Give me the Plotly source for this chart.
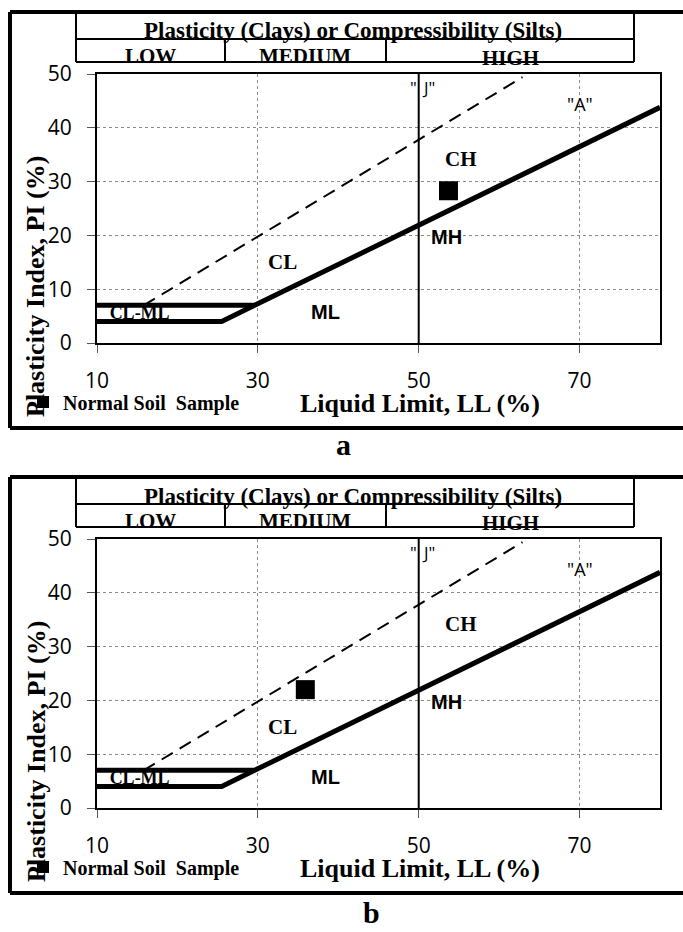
import plotly.graph_objects as go

W, H = 683, 932

# ---------------- data ----------------
x_ticks = [10, 30, 50, 70]
y_ticks = [0, 10, 20, 30, 40, 50]

a_line_ll = [10, 25.5, 29.6, 80]       # thick boundary (PI=4 -> A-line)
a_line_pi = [4, 4, 7, 43.8]
pi7_ll = [10, 29.6]
pi7_pi = [7, 7]
u_line_ll = [15.8, 62.9]                 # dashed U-line
u_line_pi = [7.0, 49.4]
j_line_ll = [50, 50]
j_line_pi = [0, 50]

samples_ll = {"a": [53.7], "b": [35.9]}
samples_pi = {"a": [28.3], "b": [22.0]}

zone_labels = ["CH", "MH", "CL", "ML"]
zone_ll = [55.3, 53.5, 33.1, 38.4]
zone_pi = [34.2, 19.7, 15.0, 5.8]
zone_font = ["serif", "sans", "serif", "sans"]

header_title = "Plasticity (Clays) or Compressibility (Silts)"
header_cells = ["LOW", "MEDIUM", "HIGH"]
panel_names = ["a", "b"]
panel_offsets = [0, 465]

SERIF = "Liberation Serif"
SANS = "Liberation Sans"
TICKF = "Open Sans"


def px(x):
    return x / W


def py(y):
    return 1 - y / H


fig = go.Figure()
shapes = []
annotations = []


def pann(x, y, text, font, **kw):
    d = dict(x=px(x), y=py(y), xref="paper", yref="paper", text=text, showarrow=False,
             xanchor="center", yanchor="middle", font=font)
    d.update(kw)
    annotations.append(d)


for i, (name, off) in enumerate(zip(panel_names, panel_offsets)):
    sx = "" if i == 0 else "2"
    xa, ya = "x" + sx, "y" + sx

    # CL-ML label (drawn first so the thick lines overlap it)
    fig.add_trace(go.Scatter(x=[15.3], y=[5.3], mode="text", text=["CL-ML"],
                             textfont=dict(family=SERIF, size=18, color="black", weight="bold"),
                             xaxis=xa, yaxis=ya, showlegend=False, hoverinfo="skip"))
    # J line
    fig.add_trace(go.Scatter(x=j_line_ll, y=j_line_pi, mode="lines",
                             line=dict(color="black", width=2),
                             xaxis=xa, yaxis=ya, showlegend=False, hoverinfo="skip"))
    # U line
    fig.add_trace(go.Scatter(x=u_line_ll, y=u_line_pi, mode="lines",
                             line=dict(color="black", width=2, dash="13px,8px"),
                             xaxis=xa, yaxis=ya, showlegend=False, hoverinfo="skip"))
    # PI = 7 line
    fig.add_trace(go.Scatter(x=pi7_ll, y=pi7_pi, mode="lines",
                             line=dict(color="black", width=5),
                             xaxis=xa, yaxis=ya, showlegend=False, hoverinfo="skip"))
    # A-line boundary
    fig.add_trace(go.Scatter(x=a_line_ll, y=a_line_pi, mode="lines",
                             line=dict(color="black", width=5),
                             xaxis=xa, yaxis=ya, showlegend=False, hoverinfo="skip"))
    # sample
    fig.add_trace(go.Scatter(x=samples_ll[name], y=samples_pi[name], mode="markers",
                             marker=dict(symbol="square", size=19, color="black"),
                             name="Normal Soil\u00a0 Sample",
                             xaxis=xa, yaxis=ya, showlegend=True,
                             legend="legend" if i == 0 else "legend2"))

    # zone labels
    for lab, ll, pi, f in zip(zone_labels, zone_ll, zone_pi, zone_font):
        annotations.append(dict(x=ll, y=pi, xref=xa, yref=ya, text=lab, showarrow=False,
                                xanchor="center", yanchor="middle",
                                font=dict(family=SERIF if f == "serif" else SANS,
                                          size=21 if f == "serif" else 20,
                                          color="black", weight="bold")))
    annotations.append(dict(x=50.5, y=47.5, xref=xa, yref=ya, text='"\u2009 J"', showarrow=False,
                            xanchor="center", yanchor="middle",
                            font=dict(family=TICKF, size=17, color="black")))
    annotations.append(dict(x=70, y=44.5, xref=xa, yref=ya, text='"A"', showarrow=False,
                            xanchor="center", yanchor="middle",
                            font=dict(family=TICKF, size=18, color="black")))

    # axis titles
    pann(420, 403 + off, "Liquid Limit, LL (%)",
         dict(family=SERIF, size=26, color="black", weight="bold"))
    pann(36, 287 + off, "Plasticity Index, PI (%)",
         dict(family=SERIF, size=26, color="black", weight="bold"), textangle=-90)
    # panel letter
    pann(343 if i == 0 else 371, 444 + off + (0 if i == 0 else 3), name,
         dict(family=SERIF, size=30, color="black", weight="bold"))

    # header table text
    pann(353, 31 + off, header_title, dict(family=SERIF, size=23, color="black", weight="bold"))
    for lab, cx, cy in zip(header_cells, [150, 305, 510], [56, 56, 58]):
        pann(cx, cy + off, lab, dict(family=SERIF, size=21, color="black", weight="bold"))

    # outer frame
    for (x0, y0, x1, y1) in [(10, 12, 700, 12), (10, 12, 10, 428), (10, 428, 700, 428)]:
        shapes.append(dict(type="line", xref="paper", yref="paper",
                           x0=px(x0), y0=py(y0 + off), x1=px(x1), y1=py(y1 + off),
                           line=dict(color="black", width=4), layer="above"))
    # header table lines
    for (x0, y0, x1, y1) in [(76, 39, 634, 39), (76, 62, 634, 62),
                             (76, 12, 76, 62), (634, 12, 634, 62),
                             (225, 39, 225, 62), (386, 39, 386, 62)]:
        shapes.append(dict(type="line", xref="paper", yref="paper",
                           x0=px(x0), y0=py(y0 + off), x1=px(x1), y1=py(y1 + off),
                           line=dict(color="black", width=2), layer="above"))

axis_common = dict(showline=True, linecolor="black", linewidth=2, mirror=True,
                   showgrid=True, gridcolor="#8a8a8a", griddash="dot", gridwidth=1,
                   ticks="outside", ticklen=8, tickcolor="#555", tickwidth=1,
                   tickfont=dict(family=TICKF, size=21, color="black"),
                   zeroline=False, fixedrange=True, automargin=False)

x_dom = [px(97), px(660)]
fig.update_layout(
    template="none",
    width=W, height=H, margin=dict(l=0, r=0, t=0, b=0, pad=0), autosize=False,
    paper_bgcolor="white", plot_bgcolor="white",
    xaxis=dict(domain=x_dom, range=[10, 80], tickvals=x_ticks, anchor="y",
               ticklabelstandoff=10, **axis_common),
    yaxis=dict(domain=[py(343), py(74)], range=[0, 50], tickvals=y_ticks, anchor="x",
               ticklabelstandoff=11, **axis_common),
    xaxis2=dict(domain=x_dom, range=[10, 80], tickvals=x_ticks, anchor="y2",
                ticklabelstandoff=10, **axis_common),
    yaxis2=dict(domain=[py(343 + 465), py(74 + 465)], range=[0, 50], tickvals=y_ticks,
                anchor="x2", ticklabelstandoff=11, **axis_common),
    legend=dict(x=px(23), y=py(402), xanchor="left", yanchor="middle",
                bgcolor="rgba(0,0,0,0)", itemsizing="constant", borderwidth=0,
                font=dict(family=SERIF, size=20, color="black", weight="bold")),
    legend2=dict(x=px(23), y=py(402 + 465), xanchor="left", yanchor="middle",
                 bgcolor="rgba(0,0,0,0)", itemsizing="constant", borderwidth=0,
                 font=dict(family=SERIF, size=20, color="black", weight="bold")),
    shapes=shapes, annotations=annotations,
)

fig.write_html("out.html")
